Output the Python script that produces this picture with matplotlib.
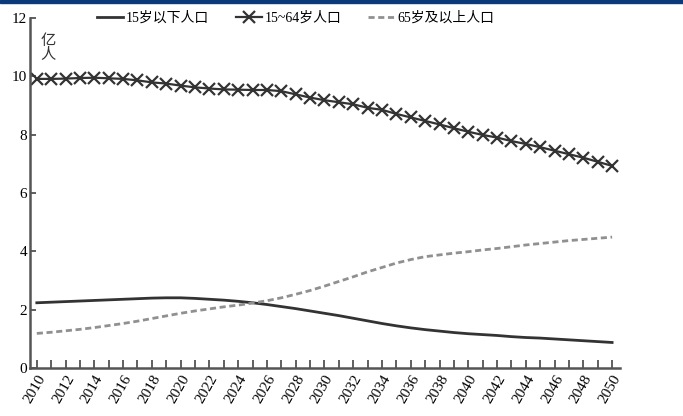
import numpy as np
import matplotlib.pyplot as plt
from matplotlib.patches import Rectangle

plt.rcParams['font.family'] = ['Liberation Serif', 'Noto Sans CJK SC']

# Data (亿人)
years = list(range(2010, 2051))
under15 = [2.24, 2.26, 2.28, 2.30, 2.32, 2.34, 2.36, 2.38, 2.40, 2.41,
           2.41, 2.39, 2.36, 2.33, 2.29, 2.24, 2.18, 2.11, 2.04, 1.96,
           1.88, 1.80, 1.71, 1.62, 1.53, 1.45, 1.38, 1.32, 1.27, 1.22,
           1.18, 1.15, 1.12, 1.08, 1.05, 1.03, 1.00, 0.97, 0.94, 0.91, 0.88]
age15_64 = [9.91, 9.91, 9.92, 9.94, 9.95, 9.93, 9.91, 9.86, 9.79, 9.75,
            9.68, 9.62, 9.58, 9.55, 9.54, 9.53, 9.53, 9.49, 9.38, 9.27,
            9.18, 9.11, 9.04, 8.92, 8.85, 8.71, 8.59, 8.47, 8.35, 8.22,
            8.10, 7.99, 7.90, 7.78, 7.68, 7.57, 7.45, 7.33, 7.21, 7.07, 6.93]
over65 = [1.19, 1.23, 1.28, 1.33, 1.39, 1.46, 1.53, 1.61, 1.70, 1.79,
          1.88, 1.96, 2.03, 2.10, 2.16, 2.23, 2.31, 2.41, 2.53, 2.66,
          2.81, 2.97, 3.13, 3.30, 3.45, 3.60, 3.72, 3.82, 3.88, 3.94,
          3.99, 4.05, 4.10, 4.16, 4.22, 4.27, 4.32, 4.37, 4.41, 4.45, 4.49]
labels = ['15岁以下人口', '15~64岁人口', '65岁及以上人口']

fig = plt.figure(figsize=(6.83, 4.16), dpi=100)
ax = fig.add_axes([0.044, 0.115, 0.864, 0.842])

# top dark blue band
fig.patches.append(Rectangle((0, 0.992), 1, 0.008, transform=fig.transFigure,
                             color='#0b3a7a', zorder=0))

ax.plot(years, under15, color='#333333', lw=2, label=labels[0])
ax.plot(years, age15_64, color='#333333', lw=1.6, marker='x', ms=8.5, mew=1.6,
        label=labels[1])
ax.plot(years, over65, color='#909090', lw=2, ls=(0, (2.2, 1.3)), label=labels[2])

ax.set_xlim(2009.53, 2050.56)
ax.set_ylim(0, 12)
ax.set_yticks(range(0, 13, 2))
ax.set_xticks(range(2010, 2051, 2))
ax.set_xticks(range(2010, 2051), minor=True)
ax.tick_params(axis='x', which='both', direction='in', length=6, width=1.2,
               color='#444444', labelsize=11, pad=3)
ax.tick_params(axis='y', direction='in', length=4, width=1.2, color='#444444',
               labelsize=11, pad=2)
for lab in ax.get_xticklabels():
    lab.set_rotation(60)
    lab.set_ha('right')
    lab.set_rotation_mode('anchor')

for s in ['top', 'right']:
    ax.spines[s].set_visible(False)
for s in ['left', 'bottom']:
    ax.spines[s].set_color('#555555')
    ax.spines[s].set_linewidth(1.8)

ax.text(2010.25, 11.45, '亿\n人', fontsize=11, va='top', ha='left', linespacing=0.95,
        color='#333333')

ax.legend(loc='upper center', bbox_to_anchor=(0.45, 1.055), ncol=3, frameon=False,
          fontsize=10, handlelength=1.9, columnspacing=1.9, handletextpad=0.2)

fig.savefig('out.png', dpi=100)
